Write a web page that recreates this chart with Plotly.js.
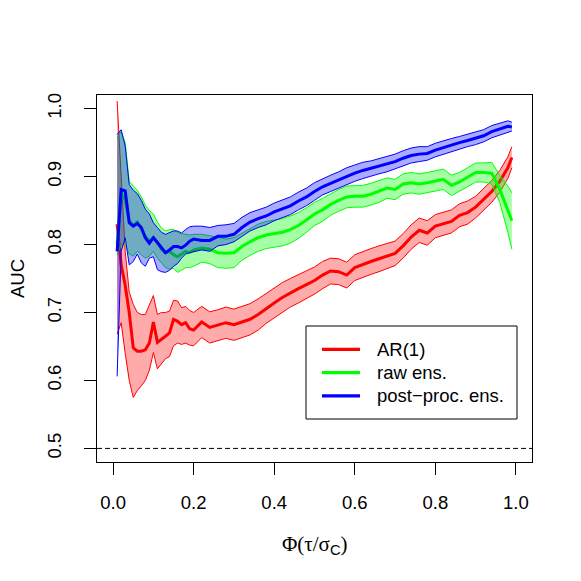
<!DOCTYPE html>
<html>
<head>
<meta charset="utf-8">
<script src="https://cdn.plot.ly/plotly-3.0.1.min.js"></script>
<style>html,body{margin:0;padding:0;background:#fff;}#plot{width:581px;height:581px;}</style>
</head>
<body>
<div id="plot"></div>
<script>
// threshold quantile grid
const xs = [0.01,0.02,0.03,0.04,0.05,0.06,0.07,0.08,0.09,0.10,
  0.11,0.12,0.13,0.14,0.15,0.16,0.17,0.18,0.19,0.20,
  0.22,0.24,0.26,0.28,0.30,0.32,0.34,0.36,0.38,0.40,
  0.42,0.44,0.46,0.48,0.50,0.52,0.54,0.56,0.58,0.60,
  0.62,0.64,0.66,0.68,0.70,0.72,0.74,0.76,0.78,0.80,
  0.82,0.84,0.86,0.88,0.90,0.92,0.94,0.96,0.98,0.99];

const seriesNames = ["AR(1)", "raw ens.", "post\u2212proc. ens."];
const seriesColors = ["#FF0000", "#00FF00", "#0000FF"];

const arMean = [0.83,0.77,0.74,0.70,0.648,0.643,0.643,0.645,0.655,0.686,
  0.656,0.660,0.665,0.670,0.690,0.687,0.682,0.685,0.676,0.674,
  0.686,0.678,0.681,0.685,0.682,0.686,0.690,0.697,0.706,0.714,
  0.722,0.729,0.735,0.741,0.747,0.755,0.761,0.760,0.755,0.766,
  0.771,0.775,0.779,0.783,0.787,0.798,0.811,0.821,0.817,0.827,
  0.831,0.834,0.843,0.847,0.855,0.867,0.878,0.893,0.913,0.928];
const arUpper = [1.011,0.90,0.79,0.73,0.712,0.700,0.697,0.697,0.710,0.725,
  0.697,0.700,0.700,0.702,0.718,0.717,0.707,0.709,0.703,0.700,
  0.709,0.701,0.704,0.708,0.705,0.709,0.713,0.720,0.728,0.736,
  0.744,0.750,0.756,0.762,0.767,0.775,0.780,0.779,0.774,0.785,
  0.790,0.794,0.798,0.802,0.805,0.816,0.829,0.839,0.835,0.844,
  0.848,0.851,0.860,0.864,0.871,0.883,0.894,0.909,0.929,0.944];
const arLower = [0.668,0.685,0.640,0.600,0.575,0.585,0.592,0.600,0.615,0.641,
  0.617,0.625,0.632,0.635,0.651,0.655,0.653,0.655,0.652,0.651,
  0.663,0.655,0.658,0.662,0.659,0.663,0.667,0.674,0.684,0.692,
  0.700,0.708,0.714,0.720,0.727,0.735,0.742,0.741,0.736,0.747,
  0.752,0.756,0.760,0.764,0.769,0.780,0.793,0.803,0.799,0.810,
  0.814,0.817,0.826,0.830,0.839,0.851,0.862,0.877,0.897,0.913];

const rawMean = [0.800,0.875,0.865,0.835,0.828,0.833,0.823,0.812,0.805,0.810,
  0.803,0.793,0.788,0.790,0.785,0.782,0.786,0.790,0.788,0.792,
  0.795,0.793,0.788,0.787,0.788,0.797,0.804,0.810,0.814,0.816,
  0.818,0.822,0.828,0.836,0.845,0.851,0.859,0.865,0.870,0.871,
  0.871,0.874,0.878,0.883,0.881,0.889,0.891,0.889,0.891,0.893,
  0.896,0.887,0.892,0.899,0.906,0.906,0.905,0.881,0.850,0.835];
const rawUpper = [0.957,0.966,0.950,0.893,0.886,0.880,0.870,0.858,0.850,0.845,
  0.833,0.824,0.820,0.822,0.822,0.818,0.816,0.815,0.814,0.815,
  0.815,0.813,0.810,0.808,0.810,0.817,0.824,0.830,0.834,0.836,
  0.838,0.842,0.847,0.854,0.862,0.868,0.875,0.881,0.886,0.887,
  0.887,0.890,0.894,0.898,0.896,0.904,0.906,0.904,0.906,0.908,
  0.911,0.902,0.906,0.913,0.920,0.920,0.921,0.902,0.886,0.876];
const rawLower = [0.785,0.800,0.800,0.786,0.783,0.790,0.785,0.780,0.783,0.790,
  0.780,0.773,0.766,0.764,0.765,0.759,0.762,0.766,0.766,0.768,
  0.774,0.772,0.766,0.765,0.766,0.777,0.784,0.790,0.794,0.796,
  0.798,0.802,0.809,0.818,0.828,0.834,0.843,0.849,0.854,0.855,
  0.855,0.858,0.862,0.868,0.866,0.874,0.876,0.874,0.876,0.878,
  0.881,0.872,0.878,0.885,0.892,0.892,0.889,0.862,0.818,0.793];

const ppMean = [0.790,0.881,0.879,0.832,0.827,0.831,0.825,0.810,0.802,0.810,
  0.803,0.795,0.788,0.792,0.797,0.797,0.795,0.799,0.805,0.808,
  0.806,0.806,0.812,0.812,0.815,0.825,0.833,0.838,0.842,0.848,
  0.852,0.857,0.864,0.870,0.878,0.885,0.890,0.895,0.901,0.905,
  0.909,0.912,0.915,0.918,0.922,0.927,0.931,0.933,0.934,0.939,
  0.943,0.946,0.950,0.953,0.956,0.960,0.966,0.970,0.974,0.973];
const ppUpper = [0.962,0.969,0.945,0.888,0.880,0.875,0.865,0.852,0.845,0.832,
  0.825,0.818,0.815,0.817,0.820,0.820,0.817,0.822,0.826,0.827,
  0.827,0.825,0.828,0.829,0.831,0.840,0.847,0.851,0.855,0.861,
  0.865,0.870,0.877,0.883,0.891,0.897,0.902,0.907,0.913,0.917,
  0.921,0.923,0.926,0.929,0.933,0.938,0.942,0.944,0.944,0.949,
  0.953,0.956,0.959,0.962,0.965,0.969,0.975,0.979,0.982,0.980];
const ppLower = [0.606,0.790,0.810,0.770,0.775,0.786,0.773,0.768,0.780,0.782,
  0.763,0.760,0.759,0.762,0.768,0.772,0.780,0.786,0.788,0.789,
  0.792,0.790,0.798,0.800,0.804,0.812,0.820,0.825,0.829,0.835,
  0.839,0.844,0.851,0.857,0.865,0.873,0.878,0.883,0.889,0.893,
  0.897,0.901,0.904,0.907,0.911,0.916,0.920,0.922,0.924,0.929,
  0.933,0.936,0.941,0.944,0.947,0.951,0.957,0.961,0.966,0.967];

const refLine = 0.5;
const xTicks = [0, 0.2, 0.4, 0.6, 0.8, 1.0];
const xTickText = ["0.0", "0.2", "0.4", "0.6", "0.8", "1.0"];
const yTicks = [0.5, 0.6, 0.7, 0.8, 0.9, 1.0];
const yTickText = ["0.5", "0.6", "0.7", "0.8", "0.9", "1.0"];

const FONT = "Liberation Sans, Arial, Helvetica, sans-serif";
const FS = 18.5;

function band(name, lower, mean, upper, col, fill) {
  return [
    {x: xs, y: lower, type: "scatter", mode: "lines", line: {color: col, width: 1},
     showlegend: false, hoverinfo: "skip"},
    {x: xs, y: upper, type: "scatter", mode: "lines", line: {color: col, width: 1},
     fill: "tonexty", fillcolor: fill, showlegend: false, hoverinfo: "skip"},
    {x: xs, y: mean, type: "scatter", mode: "lines", line: {color: col, width: 3},
     name: name, showlegend: false}
  ];
}

const data = [].concat(
  band(seriesNames[0], arLower, arMean, arUpper, seriesColors[0], "rgba(255,0,0,0.33)"),
  band(seriesNames[1], rawLower, rawMean, rawUpper, seriesColors[1], "rgba(0,255,0,0.35)"),
  band(seriesNames[2], ppLower, ppMean, ppUpper, seriesColors[2], "rgba(0,0,255,0.33)")
);

const L = 97, R = 532, T = 95, B = 462;
const W = 581, H = 581;
const pw = R - L, ph = B - T;
const px = v => (v - L) / pw;
const py = v => 1 - (v - T) / ph;

// legend box geometry (pixels)
const legBox = {x0: 306, x1: 517, y0: 326, y1: 419};
const legRows = [349.3, 372.7, 395.9];
const legLine = {x0: 322, x1: 360};
const legTextX = 375;

const shapes = [
  {type: "line", xref: "paper", yref: "y", x0: 0, x1: 1, y0: refLine, y1: refLine,
   line: {color: "#000", width: 1, dash: "5px,3px"}, layer: "above"},
  {type: "rect", xref: "paper", yref: "paper", x0: px(legBox.x0), x1: px(legBox.x1),
   y0: py(legBox.y1), y1: py(legBox.y0),
   line: {color: "#000", width: 1}, fillcolor: "#fff", layer: "above"}
];
const annotations = [
  {text: "\u03A6(\u03C4/\u03C3<sub><span style=\"font-family:Liberation Sans\">C</span></sub>)",
   xref: "paper", yref: "paper", x: px(314.5), y: py(545), xanchor: "center", yanchor: "middle",
   showarrow: false, font: {family: "Liberation Serif, serif", size: 21, color: "#000"}},
  {text: "AUC", xref: "paper", yref: "paper", x: px(17), y: py(279), xanchor: "center", yanchor: "middle",
   textangle: -90, showarrow: false, font: {family: FONT, size: FS, color: "#000"}}
];
seriesNames.forEach((nm, i) => {
  shapes.push({type: "line", xref: "paper", yref: "paper",
    x0: px(legLine.x0), x1: px(legLine.x1), y0: py(legRows[i]), y1: py(legRows[i]),
    line: {color: seriesColors[i], width: 3.3}, layer: "above"});
  annotations.push({text: nm, xref: "paper", yref: "paper", x: px(legTextX), y: py(legRows[i]),
    xanchor: "left", yanchor: "middle", showarrow: false,
    font: {family: FONT, size: FS, color: "#000"}});
});

const layout = {
  width: W, height: H,
  margin: {l: L, r: W - R, t: T, b: H - B, pad: 0},
  paper_bgcolor: "#fff", plot_bgcolor: "#fff",
  font: {family: FONT, size: FS, color: "#000"},
  showlegend: false,
  xaxis: {
    range: [-0.04, 1.04], tickvals: xTicks, ticktext: xTickText,
    ticks: "outside", ticklen: 12, tickwidth: 1, tickcolor: "#000",
    showline: true, mirror: true, linecolor: "#000", linewidth: 1,
    showgrid: false, zeroline: false, ticklabelstandoff: 12,
    tickfont: {family: FONT, size: FS, color: "#000"}
  },
  yaxis: {
    range: [0.48, 1.02], tickvals: yTicks, ticktext: yTickText,
    ticks: "outside", ticklen: 12, tickwidth: 1, tickcolor: "#000",
    showline: true, mirror: true, linecolor: "#000", linewidth: 1,
    showgrid: false, zeroline: false, tickangle: -90, ticklabelstandoff: 16,
    tickfont: {family: FONT, size: FS, color: "#000"}
  },
  shapes: shapes,
  annotations: annotations
};

Plotly.newPlot("plot", data, layout, {displayModeBar: false, staticPlot: true});
</script>
</body>
</html>
